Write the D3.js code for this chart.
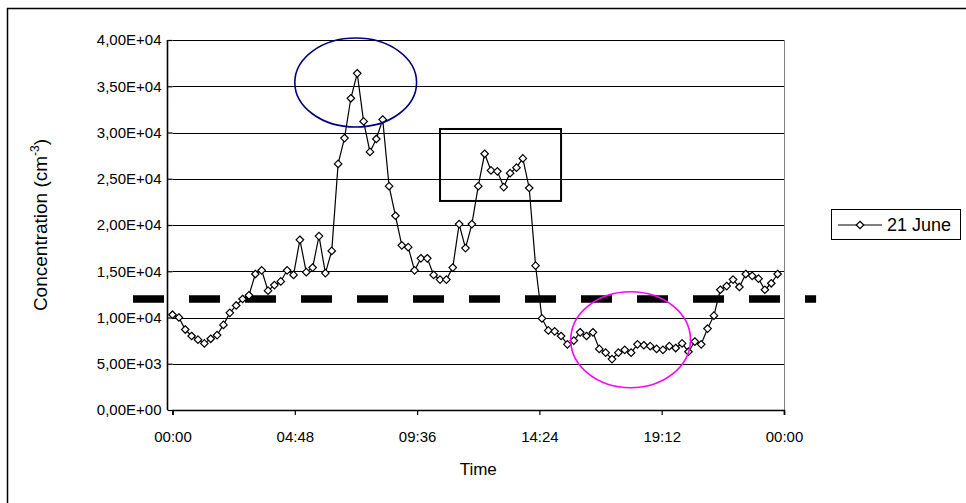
<!DOCTYPE html>
<html>
<head>
<meta charset="utf-8">
<script src="https://cdn.jsdelivr.net/npm/d3@7"></script>
<style>
  html, body { margin: 0; padding: 0; background: #fff; }
  svg { display: block; font-family: "Liberation Sans", Arial, sans-serif; }
</style>
</head>
<body>
<svg id="chart" width="966" height="503"></svg>
<script>
// Particle concentration over one day, sampled every 15 minutes (hours since midnight)
const seriesName = "21 June";
const concentration = [
  10300, 10000, 8700, 8000, 7600, 7200, 7700, 8100, 9200, 10500, 11300, 12000,
  12400, 14700, 15100, 12900, 13500, 13900, 15100, 14600, 18400, 14900, 15400, 18800,
  14800, 17200, 26600, 29400, 33700, 36400, 31200, 27900, 29300, 31400, 24200, 21000,
  17800, 17600, 15100, 16400, 16400, 14600, 14100, 14100, 15400, 20100, 17500, 20100,
  24200, 27700, 25900, 25800, 24100, 25600, 26200, 27200, 24000, 15600, 9900, 8600,
  8500, 8000, 7100, 7500, 8400, 8000, 8400, 6600, 6200, 5500, 6200, 6500,
  6200, 7100, 7000, 6900, 6600, 6500, 6900, 6700, 7200, 6300, 7400, 7100,
  8800, 10200, 13000, 13400, 14100, 13300, 14700, 14500, 14200, 13000, 13700, 14700
];
const hours = concentration.map((_, i) => i * 0.25);

// Axis ticks
const xTickHours = [0, 4.8, 9.6, 14.4, 19.2, 24];
const yTickValues = [0, 5000, 10000, 15000, 20000, 25000, 30000, 35000, 40000];

// Reference threshold and its drawn extent (hours)
const threshold = 12000;
const thresholdSpan = [-1.55, 25.26];

// Highlighted periods: ellipses [centre hour, centre value, half-width hours, half-height value]
const peakEllipse = [7.19, 35400, 2.39, 4810];
const eveningEllipse = [17.98, 7600, 2.35, 5190];
// Box [from hour, to hour, low value, high value]
const middayBox = [10.5, 15.25, 22600, 30380];

const svg = d3.select("#chart");
const plot = { left: 172.5, right: 784, top: 40, bottom: 410 };

const x = d3.scaleLinear().domain([0, 24]).range([plot.left, plot.right]);
const y = d3.scaleLinear().domain([0, 40000]).range([plot.bottom, plot.top]);

// Chart area frame
svg.append("rect")
  .attr("x", 7.5).attr("y", 8.5)
  .attr("width", 1000).attr("height", 1000)
  .attr("fill", "#fff").attr("stroke", "#000").attr("stroke-width", 1.5);

// Horizontal gridlines
svg.append("g")
  .selectAll("line")
  .data(yTickValues.filter(v => v > 0))
  .join("line")
  .attr("x1", plot.left).attr("x2", plot.right)
  .attr("y1", d => Math.round(y(d)) + 0.5).attr("y2", d => Math.round(y(d)) + 0.5)
  .attr("stroke", "#000").attr("stroke-width", 1);

// Plot area right edge
svg.append("line")
  .attr("x1", plot.right + 0.5).attr("x2", plot.right + 0.5)
  .attr("y1", plot.top).attr("y2", plot.bottom)
  .attr("stroke", "#808080").attr("stroke-width", 1);

// Scientific tick labels with decimal comma, e.g. 4,00E+04
function sciComma(v) {
  if (v === 0) return "0,00E+00";
  const e = Math.floor(Math.log10(Math.abs(v)));
  const m = v / Math.pow(10, e);
  const sign = e < 0 ? "-" : "+";
  return m.toFixed(2).replace(".", ",") + "E" + sign + String(Math.abs(e)).padStart(2, "0");
}
function hhmm(h) {
  const mins = Math.round(h * 60) % (24 * 60);
  return String(Math.floor(mins / 60)).padStart(2, "0") + ":" + String(mins % 60).padStart(2, "0");
}

const tickFont = "15px";
const yAxis = svg.append("g")
  .attr("transform", `translate(${plot.left},0)`)
  .call(d3.axisLeft(y).tickValues(yTickValues).tickFormat(sciComma).tickSize(5).tickPadding(6));
const xAxis = svg.append("g")
  .attr("transform", `translate(0,${plot.bottom})`)
  .call(d3.axisBottom(x).tickValues(xTickHours).tickFormat(hhmm).tickSize(5).tickPadding(16));

[yAxis, xAxis].forEach(g => {
  g.select(".domain").attr("stroke", "#000").attr("stroke-width", 1.6);
  g.selectAll(".tick line").attr("stroke", "#000").attr("stroke-width", 1.2);
  g.selectAll(".tick text").attr("fill", "#000").style("font-size", tickFont)
    .style("font-family", "'Liberation Sans', Arial, sans-serif");
});
yAxis.select(".domain").attr("d", `M-5,${plot.bottom}V${plot.top}`);

// Threshold line
svg.append("line")
  .attr("x1", x(thresholdSpan[0])).attr("x2", x(thresholdSpan[1]))
  .attr("y1", y(threshold)).attr("y2", y(threshold))
  .attr("stroke", "#000").attr("stroke-width", 7.5)
  .attr("stroke-dasharray", "31 25");

// Series line
const pts = hours.map((h, i) => [h, concentration[i]]);
svg.append("path")
  .datum(pts)
  .attr("fill", "none").attr("stroke", "#000").attr("stroke-width", 1.2)
  .attr("d", d3.line().x(d => x(d[0])).y(d => y(d[1])));

// Diamond markers
const diamond = d3.symbol().type(d3.symbolDiamond2).size(36);
svg.append("g")
  .selectAll("path")
  .data(pts)
  .join("path")
  .attr("transform", d => `translate(${x(d[0])},${y(d[1])})`)
  .attr("d", diamond)
  .attr("fill", "#fff").attr("stroke", "#000").attr("stroke-width", 1.2);

// Highlight shapes
function ellipse(spec, color) {
  const [ch, cv, rh, rv] = spec;
  svg.append("ellipse")
    .attr("cx", x(ch)).attr("cy", y(cv))
    .attr("rx", x(ch + rh) - x(ch)).attr("ry", y(cv) - y(cv + rv))
    .attr("fill", "none").attr("stroke", color).attr("stroke-width", 1.6);
}
ellipse(peakEllipse, "#000080");
ellipse(eveningEllipse, "#ff00ff");
svg.append("rect")
  .attr("x", x(middayBox[0])).attr("y", y(middayBox[3]))
  .attr("width", x(middayBox[1]) - x(middayBox[0]))
  .attr("height", y(middayBox[2]) - y(middayBox[3]))
  .attr("fill", "none").attr("stroke", "#000").attr("stroke-width", 2);

// Axis titles
svg.append("text")
  .attr("x", (plot.left + plot.right) / 2).attr("y", 475)
  .attr("text-anchor", "middle").style("font-size", "17px").text("Time");

const yTitle = svg.append("text")
  .attr("transform", `translate(47,${(plot.top + plot.bottom) / 2}) rotate(-90)`)
  .attr("text-anchor", "middle").style("font-size", "19px");
yTitle.append("tspan").text("Concentration (cm");
yTitle.append("tspan").attr("dy", -8).style("font-size", "12px").text("-3");
yTitle.append("tspan").attr("dy", 8).text(")");

// Legend
const lg = svg.append("g").attr("transform", "translate(831,209)");
lg.append("rect").attr("x", 0.5).attr("y", 0.5).attr("width", 129).attr("height", 30)
  .attr("fill", "#fff").attr("stroke", "#000").attr("stroke-width", 1);
lg.append("line").attr("x1", 7).attr("x2", 51).attr("y1", 16).attr("y2", 16)
  .attr("stroke", "#000").attr("stroke-width", 1.2);
lg.append("path").attr("transform", "translate(29,16)").attr("d", diamond)
  .attr("fill", "#fff").attr("stroke", "#000").attr("stroke-width", 1.2);
lg.append("text").attr("x", 56).attr("y", 22).style("font-size", "18px").text(seriesName);
</script>
</body>
</html>
